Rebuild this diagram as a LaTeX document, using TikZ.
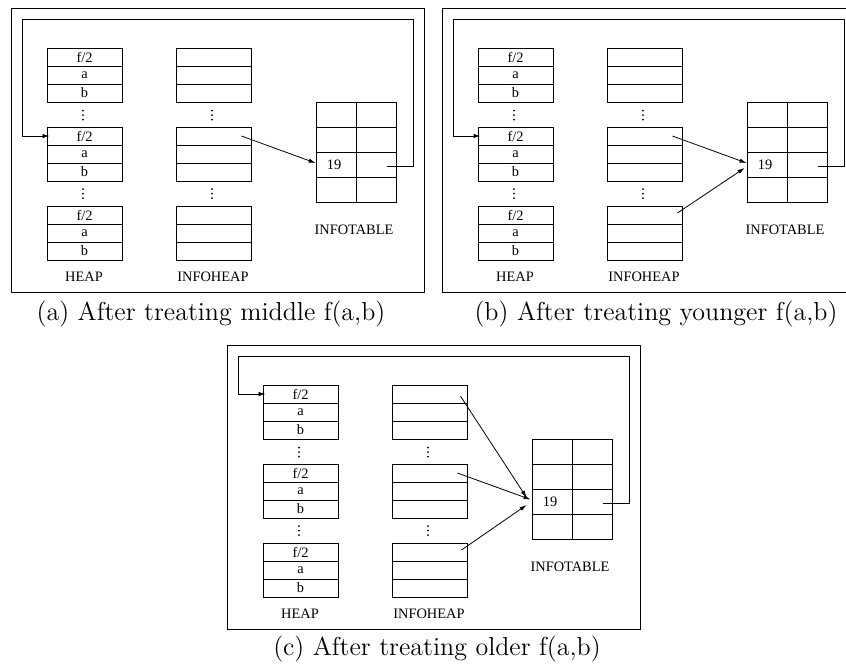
\documentclass[tikz,border=0pt]{standalone}
\usepackage{fontspec}
\newfontfamily\tms{Liberation Serif}
\usetikzlibrary{arrows.meta}

\tikzset{
  innerfont/.style={font=\tms\fontsize{7.2}{8}\selectfont},
  cell/.style={draw, line width=0.42pt, minimum width=37.5pt, minimum height=9pt,
    inner sep=0pt, innerfont},
  tcell/.style={cell, minimum width=20pt, minimum height=12.5pt},
  lbl/.style={innerfont, inner sep=0pt},
  captext/.style={font=\fontsize{13}{15}\selectfont, inner sep=0pt},
  ptr/.style={line width=0.4pt, -{Latex[length=3.5pt,width=2.2pt]}},
  frm/.style={line width=0.45pt},
}

% #1 prefix, #2/#3 shift, #4 heap block the back pointer reaches, #5 its row height
\newcommand\mempanel[5]{%
\begin{scope}[shift={(#2,#3)}]
  \draw[frm] (11,8) rectangle (424,292);
  % heap and infoheap blocks
  \foreach \b/\y in {1/57,2/136,3/215}{
    \node[cell] (#1-h\b-1) at (84.5,\y) {f/2};
    \node[cell] (#1-h\b-2) at (84.5,\y+18) {a};
    \node[cell] (#1-h\b-3) at (84.5,\y+36) {b};
    \node[cell] (#1-i\b-1) at (214,\y) {};
    \node[cell] (#1-i\b-2) at (214,\y+18) {};
    \node[cell] (#1-i\b-3) at (214,\y+36) {};
  }
  % vertical ellipses between the blocks
  \foreach \x in {83,212}{
    \foreach \y in {110.5,115,119.5,189,193.5,198}{
      \fill (\x,\y) circle[radius=0.5pt];
    }
  }
  % info table
  \foreach \r/\y in {1/114.5,2/139.5,3/164.5,4/189.5}{
    \node[tcell] (#1-t\r-1) at (336,\y) {};
    \node[tcell] (#1-t\r-2) at (376,\y) {};
  }
  \node[lbl] (#1-val) at (334,164.5) {19};
  \node[lbl] (#1-heap) at (84,277) {HEAP};
  \node[lbl] (#1-infoheap) at (213,277) {INFOHEAP};
  \node[lbl] (#1-infotable) at (354,230) {INFOTABLE};
  % back pointer from the table to the heap
  \draw[ptr] ([xshift=-4.5pt,yshift=-1pt]#1-t3-2.east) -| (413,19)
    -| (22,#5) -- ([xshift=1.5pt]#1-h#4-1.west);
\end{scope}}

\begin{document}
\begin{tikzpicture}[x=0.5pt,y=-0.5pt]
  \useasboundingbox (0,0) rectangle (846,666);
  \clip (0,0) rectangle (846,666);
  \fill[white] (0,0) rectangle (846,666);

  % (a)
  \mempanel{a}{0}{0}{2}{136}
  \draw[ptr] ([xshift=-5.25pt]a-i2-1.east) -- ([yshift=0.75pt]a-t3-1.west);
  \node[captext] (capa) at (211,314) {(a) After treating middle f(a,b)};

  % (b)
  \mempanel{b}{431}{0}{2}{136}
  \draw[ptr] ([xshift=-5.25pt]b-i2-1.east) -- ([yshift=0.75pt]b-t3-1.west);
  \draw[ptr] ([xshift=-2.75pt,yshift=1pt]b-i3-1.east) -- ([xshift=-1pt,yshift=-1.75pt]b-t3-1.west);
  \node[captext] (capb) at (656,314) {(b) After treating younger f(a,b)};

  % (c)
  \mempanel{c}{216}{337}{1}{57}
  \draw[ptr] ([xshift=-3.75pt,yshift=-1pt]c-i1-1.east) -- ([xshift=-2.5pt,yshift=2pt]c-t3-1.west);
  \draw[ptr] ([xshift=-5.25pt]c-i2-1.east) -- ([xshift=-0.5pt,yshift=1pt]c-t3-1.west);
  \draw[ptr] ([xshift=-3.25pt,yshift=1pt]c-i3-1.east) -- ([xshift=-2.5pt,yshift=-1.75pt]c-t3-1.west);
  \node[captext] (capc) at (437,649) {(c) After treating older f(a,b)};
\end{tikzpicture}
\end{document}
